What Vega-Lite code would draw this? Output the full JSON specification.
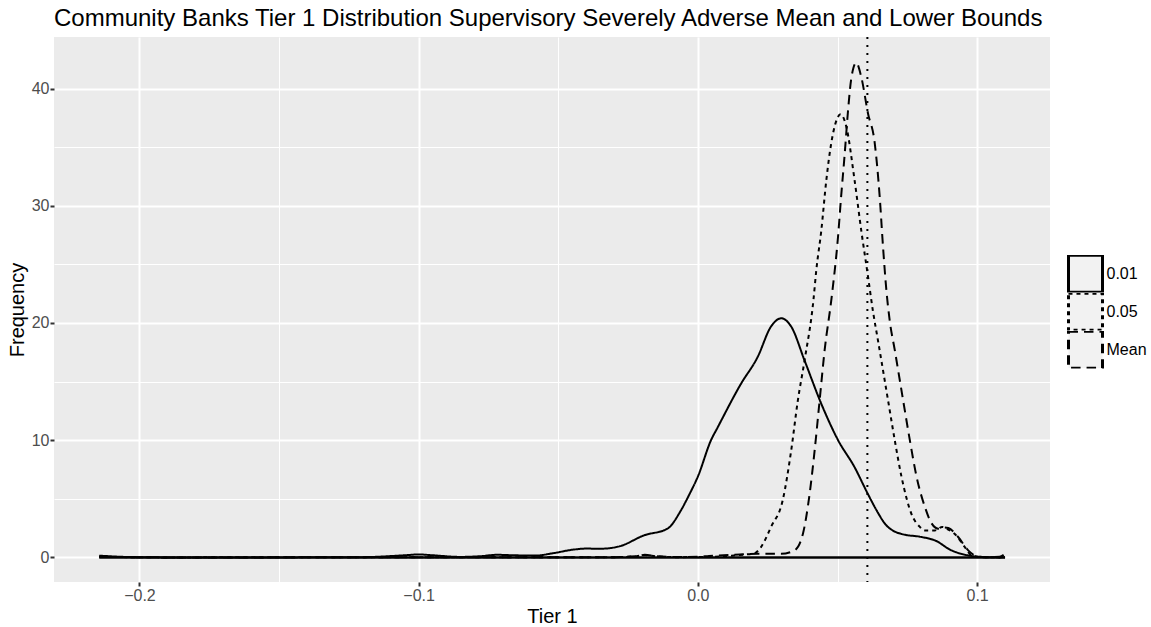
{
  "$schema": "https://vega.github.io/schema/vega-lite/v6.json",
  "width": 996,
  "height": 545,
  "autosize": {"type": "none"},
  "padding": {"left": 54, "top": 37, "right": 101, "bottom": 45},
  "title": {
    "text": "Community Banks Tier 1 Distribution Supervisory Severely Adverse Mean and Lower Bounds",
    "anchor": "start",
    "frame": "group",
    "fontSize": 24,
    "fontWeight": "normal",
    "color": "black",
    "offset": 5
  },
  "config": {
    "font": "Liberation Sans",
    "view": {"fill": "#EBEBEB", "stroke": null},
    "axis": {
      "domain": false,
      "gridColor": "white",
      "tickColor": "#333333",
      "tickSize": 4,
      "tickWidth": 2,
      "labelColor": "#4D4D4D",
      "labelFontSize": 16,
      "labelPadding": 1,
      "titleColor": "black",
      "titleFontSize": 20,
      "titleFontWeight": "normal"
    }
  },
  "datasets": {
    "dens": [
      {"series": "0.01", "x": -0.2144, "y": 0.15},
      {"series": "0.01", "x": -0.205, "y": 0.04},
      {"series": "0.01", "x": -0.19, "y": 0.0},
      {"series": "0.01", "x": -0.15, "y": 0.0},
      {"series": "0.01", "x": -0.12, "y": 0.02},
      {"series": "0.01", "x": -0.105, "y": 0.18},
      {"series": "0.01", "x": -0.1, "y": 0.25},
      {"series": "0.01", "x": -0.095, "y": 0.18},
      {"series": "0.01", "x": -0.085, "y": 0.04},
      {"series": "0.01", "x": -0.078, "y": 0.1},
      {"series": "0.01", "x": -0.072, "y": 0.22},
      {"series": "0.01", "x": -0.066, "y": 0.18},
      {"series": "0.01", "x": -0.058, "y": 0.16},
      {"series": "0.01", "x": -0.052, "y": 0.35},
      {"series": "0.01", "x": -0.045, "y": 0.65},
      {"series": "0.01", "x": -0.04, "y": 0.75},
      {"series": "0.01", "x": -0.0348, "y": 0.74},
      {"series": "0.01", "x": -0.028, "y": 0.95},
      {"series": "0.01", "x": -0.0193, "y": 1.88},
      {"series": "0.01", "x": -0.0109, "y": 2.45},
      {"series": "0.01", "x": -0.0061, "y": 4.0},
      {"series": "0.01", "x": -0.003, "y": 5.4},
      {"series": "0.01", "x": 0.0, "y": 6.9},
      {"series": "0.01", "x": 0.0047, "y": 10.0},
      {"series": "0.01", "x": 0.0071, "y": 11.1},
      {"series": "0.01", "x": 0.0154, "y": 14.8},
      {"series": "0.01", "x": 0.0214, "y": 17.1},
      {"series": "0.01", "x": 0.0262, "y": 19.7},
      {"series": "0.01", "x": 0.0298, "y": 20.4},
      {"series": "0.01", "x": 0.0334, "y": 19.7},
      {"series": "0.01", "x": 0.0382, "y": 16.8},
      {"series": "0.01", "x": 0.0442, "y": 13.1},
      {"series": "0.01", "x": 0.0502, "y": 10.0},
      {"series": "0.01", "x": 0.0561, "y": 7.7},
      {"series": "0.01", "x": 0.0609, "y": 5.4},
      {"series": "0.01", "x": 0.0645, "y": 3.8},
      {"series": "0.01", "x": 0.0669, "y": 2.9},
      {"series": "0.01", "x": 0.0705, "y": 2.2},
      {"series": "0.01", "x": 0.0729, "y": 2.0},
      {"series": "0.01", "x": 0.0801, "y": 1.74},
      {"series": "0.01", "x": 0.0849, "y": 1.45},
      {"series": "0.01", "x": 0.0908, "y": 0.6},
      {"series": "0.01", "x": 0.0968, "y": 0.17},
      {"series": "0.01", "x": 0.102, "y": 0.03},
      {"series": "0.01", "x": 0.108, "y": 0.0},
      {"series": "0.01", "x": 0.11, "y": 0.02},

      {"series": "0.05", "x": -0.2144, "y": 0.05},
      {"series": "0.05", "x": -0.19, "y": 0.0},
      {"series": "0.05", "x": -0.1, "y": 0.02},
      {"series": "0.05", "x": -0.03, "y": 0.02},
      {"series": "0.05", "x": -0.022, "y": 0.1},
      {"series": "0.05", "x": -0.019, "y": 0.2},
      {"series": "0.05", "x": -0.015, "y": 0.1},
      {"series": "0.05", "x": -0.008, "y": 0.02},
      {"series": "0.05", "x": 0.005, "y": 0.05},
      {"series": "0.05", "x": 0.012, "y": 0.15},
      {"series": "0.05", "x": 0.017, "y": 0.25},
      {"series": "0.05", "x": 0.0202, "y": 0.35},
      {"series": "0.05", "x": 0.0226, "y": 0.88},
      {"series": "0.05", "x": 0.0262, "y": 2.6},
      {"series": "0.05", "x": 0.0304, "y": 4.9},
      {"series": "0.05", "x": 0.0334, "y": 9.1},
      {"series": "0.05", "x": 0.0358, "y": 13.4},
      {"series": "0.05", "x": 0.0382, "y": 16.8},
      {"series": "0.05", "x": 0.0414, "y": 22.0},
      {"series": "0.05", "x": 0.0424, "y": 24.5},
      {"series": "0.05", "x": 0.0442, "y": 27.9},
      {"series": "0.05", "x": 0.046, "y": 32.2},
      {"series": "0.05", "x": 0.0478, "y": 35.4},
      {"series": "0.05", "x": 0.0495, "y": 37.2},
      {"series": "0.05", "x": 0.0511, "y": 37.8},
      {"series": "0.05", "x": 0.0531, "y": 36.8},
      {"series": "0.05", "x": 0.0561, "y": 32.2},
      {"series": "0.05", "x": 0.0585, "y": 27.9},
      {"series": "0.05", "x": 0.0609, "y": 24.0},
      {"series": "0.05", "x": 0.0627, "y": 21.0},
      {"series": "0.05", "x": 0.0645, "y": 18.5},
      {"series": "0.05", "x": 0.0681, "y": 13.4},
      {"series": "0.05", "x": 0.0705, "y": 10.0},
      {"series": "0.05", "x": 0.0729, "y": 6.9},
      {"series": "0.05", "x": 0.0765, "y": 3.7},
      {"series": "0.05", "x": 0.0795, "y": 2.6},
      {"series": "0.05", "x": 0.0813, "y": 2.3},
      {"series": "0.05", "x": 0.0849, "y": 2.3},
      {"series": "0.05", "x": 0.0875, "y": 2.6},
      {"series": "0.05", "x": 0.0895, "y": 2.4},
      {"series": "0.05", "x": 0.092, "y": 2.0},
      {"series": "0.05", "x": 0.0956, "y": 0.88},
      {"series": "0.05", "x": 0.098, "y": 0.17},
      {"series": "0.05", "x": 0.102, "y": 0.02},
      {"series": "0.05", "x": 0.108, "y": 0.0},
      {"series": "0.05", "x": 0.11, "y": 0.15},

      {"series": "Mean", "x": -0.2144, "y": 0.05},
      {"series": "Mean", "x": -0.19, "y": 0.0},
      {"series": "Mean", "x": -0.03, "y": 0.02},
      {"series": "Mean", "x": -0.022, "y": 0.1},
      {"series": "Mean", "x": -0.019, "y": 0.22},
      {"series": "Mean", "x": -0.015, "y": 0.1},
      {"series": "Mean", "x": -0.008, "y": 0.03},
      {"series": "Mean", "x": 0.0, "y": 0.05},
      {"series": "Mean", "x": 0.004, "y": 0.12},
      {"series": "Mean", "x": 0.013, "y": 0.23},
      {"series": "Mean", "x": 0.0214, "y": 0.3},
      {"series": "Mean", "x": 0.0298, "y": 0.3},
      {"series": "Mean", "x": 0.0346, "y": 0.6},
      {"series": "Mean", "x": 0.0376, "y": 2.0},
      {"series": "Mean", "x": 0.04, "y": 5.4},
      {"series": "Mean", "x": 0.0418, "y": 9.1},
      {"series": "Mean", "x": 0.0436, "y": 13.4},
      {"series": "Mean", "x": 0.0454, "y": 17.7},
      {"series": "Mean", "x": 0.0478, "y": 22.0},
      {"series": "Mean", "x": 0.0502, "y": 27.4},
      {"series": "Mean", "x": 0.0513, "y": 30.8},
      {"series": "Mean", "x": 0.0525, "y": 34.2},
      {"series": "Mean", "x": 0.0538, "y": 38.2},
      {"series": "Mean", "x": 0.0549, "y": 40.8},
      {"series": "Mean", "x": 0.0567, "y": 42.2},
      {"series": "Mean", "x": 0.0585, "y": 41.0},
      {"series": "Mean", "x": 0.0609, "y": 37.9},
      {"series": "Mean", "x": 0.0633, "y": 35.4},
      {"series": "Mean", "x": 0.0651, "y": 30.8},
      {"series": "Mean", "x": 0.0663, "y": 26.5},
      {"series": "Mean", "x": 0.0675, "y": 22.8},
      {"series": "Mean", "x": 0.0687, "y": 20.2},
      {"series": "Mean", "x": 0.0705, "y": 17.7},
      {"series": "Mean", "x": 0.0735, "y": 13.4},
      {"series": "Mean", "x": 0.0759, "y": 10.0},
      {"series": "Mean", "x": 0.0783, "y": 6.9},
      {"series": "Mean", "x": 0.0813, "y": 4.3},
      {"series": "Mean", "x": 0.0837, "y": 2.9},
      {"series": "Mean", "x": 0.0861, "y": 2.45},
      {"series": "Mean", "x": 0.088, "y": 2.55},
      {"series": "Mean", "x": 0.0897, "y": 2.5},
      {"series": "Mean", "x": 0.0932, "y": 1.74},
      {"series": "Mean", "x": 0.0968, "y": 0.6},
      {"series": "Mean", "x": 0.0992, "y": 0.17},
      {"series": "Mean", "x": 0.103, "y": 0.02},
      {"series": "Mean", "x": 0.108, "y": 0.05},
      {"series": "Mean", "x": 0.11, "y": 0.3}
    ],
    "base": [{"x": -0.2144, "x2": 0.11, "y": 0}],
    "vline": [{"x": 0.0607}]
  },
  "layer": [
    {
      "data": {"name": "base"},
      "mark": {"type": "rule", "color": "black", "strokeWidth": 2.5},
      "encoding": {
        "x": {"field": "x", "type": "quantitative", "scale": {"domain": [-0.2306, 0.1261], "nice": false, "zero": false}},
        "x2": {"field": "x2"},
        "y": {"field": "y", "type": "quantitative"}
      }
    },
    {
      "data": {"name": "dens"},
      "mark": {"type": "line", "strokeWidth": 2, "interpolate": "monotone", "color": "black"},
      "encoding": {
        "x": {
          "field": "x", "type": "quantitative",
          "scale": {"domain": [-0.2306, 0.1261], "nice": false, "zero": false},
          "axis": {
            "title": "Tier 1",
            "titlePadding": 3,
            "values": [-0.2, -0.15, -0.1, -0.05, 0, 0.05, 0.1],
            "labelExpr": "abs(datum.value * 10 - round(datum.value * 10)) < 0.001 ? replace(format(datum.value, '.1f'), '-', '\u2212') : ''",
            "gridWidth": {"condition": {"test": "abs(datum.value * 10 - round(datum.value * 10)) < 0.001", "value": 2}, "value": 1},
            "tickOpacity": {"condition": {"test": "abs(datum.value * 10 - round(datum.value * 10)) < 0.001", "value": 1}, "value": 0}
          }
        },
        "y": {
          "field": "y", "type": "quantitative",
          "scale": {"domain": [-2.1, 44.4], "nice": false, "zero": false},
          "axis": {
            "title": "Frequency",
            "titlePadding": 4,
            "values": [0, 5, 10, 15, 20, 25, 30, 35, 40],
            "labelExpr": "datum.value % 10 === 0 ? datum.label : ''",
            "gridWidth": {"condition": {"test": "datum.value % 10 === 0", "value": 2}, "value": 1},
            "tickOpacity": {"condition": {"test": "datum.value % 10 === 0", "value": 1}, "value": 0}
          }
        },
        "strokeDash": {
          "field": "series", "type": "nominal",
          "scale": {"domain": ["0.01", "0.05", "Mean"], "range": [[1, 0], [4, 4], [9.5, 6]]},
          "legend": {
            "title": null,
            "orient": "none",
            "legendX": 1011.5,
            "legendY": 218,
            "padding": 0,
            "symbolType": "M-0.92,-1H0.92V1H-0.92Z",
            "symbolSize": 1369,
            "symbolFillColor": "#F2F2F2",
            "symbolStrokeColor": "black",
            "symbolStrokeWidth": 3,
            "rowPadding": 0,
            "clipHeight": 37.5,
            "labelFontSize": 16,
            "labelColor": "black",
            "labelOffset": 1,
            "encode": {
              "symbols": {
                "update": {
                  "fill": {"value": "#F2F2F2"},
                  "fillOpacity": {"value": 1},
                  "stroke": {"value": "black"},
                  "strokeWidth": {"value": 3},
                  "opacity": {"value": 1}
                }
              }
            }
          }
        }
      }
    },
    {
      "data": {"name": "vline"},
      "mark": {"type": "rule", "color": "black", "strokeWidth": 2, "strokeDash": [2, 6]},
      "encoding": {
        "x": {"field": "x", "type": "quantitative"}
      }
    }
  ]
}
